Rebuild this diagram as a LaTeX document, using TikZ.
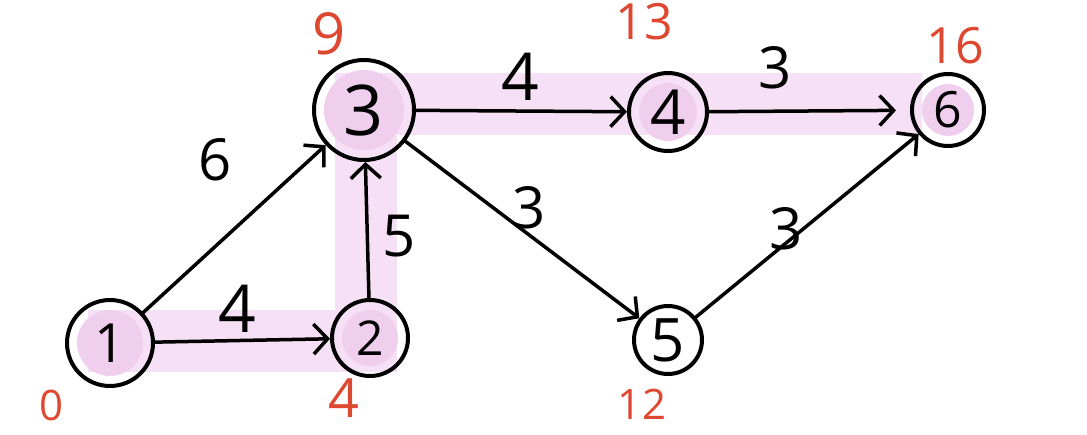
\documentclass[tikz,border=0pt]{standalone}
\usepackage{fontspec}
\setmainfont{Open Sans}
\usetikzlibrary{arrows.meta, positioning, calc, backgrounds}

\definecolor{bandpink}{RGB}{246,224,245}
\definecolor{dotpink}{RGB}{240,206,238}
\definecolor{tagred}{RGB}{222,72,48}
\newcommand\handsize[1]{\fontsize{#1}{#1}\selectfont}

\tikzset{
  vertex/.style={circle, draw, line width=4pt, inner sep=0pt},
  edge/.style={line width=3.5pt, -{Straight Barb[length=14pt,width=30pt,line width=3.5pt]}},
  weight/.style={font=\handsize{58}, inner sep=0pt},
  tag/.style={text=tagred, font=\handsize{50}, inner sep=0pt},
  band/.style={line width=62pt, bandpink, line cap=butt, line join=miter},
}

\begin{document}
\begin{tikzpicture}[x=1pt, y=-1pt, line join=round, line cap=round]
    \useasboundingbox (0,0) rectangle (1087,434);

    % events
    \node[vertex, minimum size=86pt, font=\handsize{54}] (n1) at (110,343) {1};
    \node[vertex, minimum size=76pt, font=\handsize{48}] (n2) at (370,338) {2};
    \node[vertex, minimum size=100pt, font=\handsize{70}] (n3) at (364,110) {3};
    \node[vertex, minimum size=78pt, font=\handsize{62}] (n4) at (668,112) {4};
    \node[vertex, minimum size=68pt, font=\handsize{60}] (n5) at (668,340) {5};
    \node[vertex, minimum size=72pt, font=\handsize{50}] (n6) at (948,110) {6};

    % critical path highlight
    \begin{pgfonlayer}{background}
        \draw[band] (88,341) -- (366,341) -- (366,104) -- (922,104);
        \fill[dotpink] (n1) circle (33);
        \fill[dotpink] (n2) circle (28);
        \fill[dotpink] (n3) circle (40);
        \fill[dotpink] (n4) circle (29);
        \fill[dotpink] (n6) circle (26);
    \end{pgfonlayer}

    % activities
    \draw[edge] (n1) -- (n3);
    \draw[edge] (n1) -- (n2);
    \draw[edge] (n2) -- (n3);
    \draw[edge] (n3) -- (n4);
    \draw[edge] (n3) -- (n5);
    \draw[edge, shorten >=14pt] (n4) -- (n6);
    \draw[edge] (n5) -- (n6);

    % durations
    \node[weight] (w13) at (215,160) {6};
    \node[weight, font=\handsize{66}] (w12) at (237,309) {4};
    \node[weight] (w23) at (399,236) {5};
    \node[weight, font=\handsize{66}] (w34) at (520,77) {4};
    \node[weight] (w35) at (529,208) {3};
    \node[weight] (w46) at (775,68) {3};
    \node[weight] (w56) at (786,229) {3};

    % earliest times
    \node[tag, font=\handsize{42}] (t1) at (52,405) {0};
    \node[tag, font=\handsize{54}] (t2) at (344,398) {4};
    \node[tag, font=\handsize{58}] (t3) at (329,34) {9};
    \node[tag] (t4) at (644,22) {13};
    \node[tag, font=\handsize{42}] (t5) at (642,404) {12};
    \node[tag] (t6) at (955,46) {16};
\end{tikzpicture}
\end{document}
